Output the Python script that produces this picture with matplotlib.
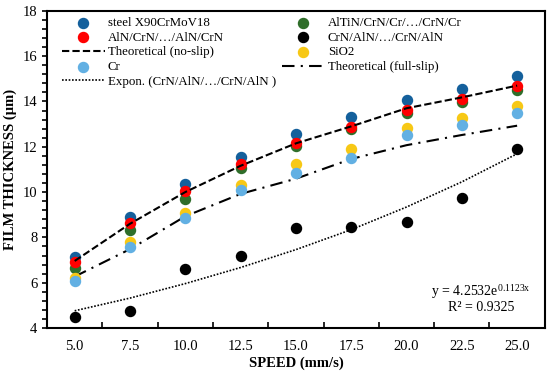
import matplotlib.pyplot as plt
import numpy as np

plt.rcParams['font.family'] = ['Liberation Serif', 'DejaVu Serif']
plt.rcParams['mathtext.fontset'] = 'stix'

speed = [5.0, 7.5, 10.0, 12.5, 15.0, 17.5, 20.0, 22.5, 25.0]
speed_labels = ['5.0', '7.5', '10.0', '12.5', '15.0', '17.5', '20.0', '22.5', '25.0']

steel = [7.15, 8.89, 10.34, 11.56, 12.56, 13.30, 14.07, 14.56, 15.14]
aln_crn = [6.92, 8.64, 10.03, 11.23, 12.18, 12.89, 13.63, 14.10, 14.67]
altin = [6.67, 8.34, 9.70, 11.07, 12.03, 12.78, 13.48, 13.96, 14.49]
crn_aln = [4.47, 4.77, 6.59, 7.16, 8.40, 8.47, 8.69, 9.73, 11.92]
sio2 = [6.22, 7.78, 9.07, 10.32, 11.23, 11.88, 12.84, 13.29, 13.80]
cr = [6.07, 7.58, 8.84, 10.07, 10.84, 11.51, 12.52, 12.96, 13.48]

no_slip = [6.96, 8.60, 10.00, 11.16, 12.15, 12.90, 13.70, 14.18, 14.70]
full_slip = [6.27, 7.48, 8.93, 9.92, 10.59, 11.46, 12.07, 12.52, 12.93]
# trendline values as printed: y = 4.2532e^(0.1123x), x = 1..9
expon = [4.76, 5.32, 5.96, 6.67, 7.46, 8.34, 9.34, 10.45, 11.69]

fig = plt.figure(figsize=(5.5, 3.74), dpi=100)
ax = fig.add_axes([0.0855, 0.123, 0.905, 0.848])

ms = 52
h_steel = ax.scatter(speed, steel, s=ms, color='#14609c', zorder=3, label='steel X90CrMoV18')
h_green = ax.scatter(speed, altin, s=ms, color='#2f6e2a', zorder=3, label='AlTiN/CrN/Cr/…/CrN/Cr')
h_red = ax.scatter(speed, aln_crn, s=ms, color='#ff0000', zorder=4, label='AlN/CrN/…/AlN/CrN')
h_black = ax.scatter(speed, crn_aln, s=ms, color='black', zorder=3, label='CrN/AlN/…/CrN/AlN')
h_yellow = ax.scatter(speed, sio2, s=ms, color='#f7c815', zorder=3, label='SiO2')
h_cr = ax.scatter(speed, cr, s=ms, color='#62b0e3', zorder=4, label='Cr')

h_ns, = ax.plot(speed, no_slip, color='black', ls=(0, (3.5, 1.5)), lw=1.5, zorder=5,
                label='Theoretical (no-slip)')
h_fs, = ax.plot(speed, full_slip, color='black', ls=(0, (6, 3, 1, 3)), lw=1.5, zorder=2,
                label='Theoretical (full-slip)')
h_ex, = ax.plot(speed, expon, color='black', ls=(0, (1, 1)), lw=1.2, zorder=2,
                label='Expon. (CrN/AlN/…/CrN/AlN )')

ax.set_xlim(3.75, 26.25)
ax.set_ylim(4, 18)
ax.set_xticks(speed)
ax.set_xticklabels(speed_labels)
ax.set_xticks(np.arange(6.25, 26, 2.5), minor=True)
ax.set_yticks(np.arange(4, 19, 2))
ax.set_yticks(np.arange(4, 18.01, 0.4), minor=True)
ax.tick_params(axis='x', which='major', length=0, labelsize=10.5, pad=9)
ax.tick_params(axis='x', which='minor', direction='in', length=4, width=1.2)
ax.tick_params(axis='y', which='both', direction='out', length=3.5, width=1.2, labelsize=10.5)
for s in ax.spines.values():
    s.set_linewidth(1.5)

ax.set_xlabel('SPEED (mm/s)', fontweight='bold', fontsize=10.5, labelpad=2)
ax.set_ylabel('FILM THICKNESS (µm)', fontweight='bold', fontsize=10.5, labelpad=4)

handles = [h_steel, h_red, h_ns, h_cr, h_ex, h_green, h_black, h_yellow, h_fs]
ax.legend(handles=handles, loc='upper left', ncol=2, frameon=False, fontsize=9.3,
          bbox_to_anchor=(0.030, 0.980), borderpad=0, borderaxespad=0,
          handlelength=3.3, handletextpad=0.25,
          labelspacing=0.2, columnspacing=0.45)

ax.text(0.872, 0.115, 'y = 4.2532e$^{\\mathregular{0.1123x}}$', transform=ax.transAxes,
        ha='center', va='center', fontsize=10)
ax.text(0.872, 0.065, 'R² = 0.9325', transform=ax.transAxes,
        ha='center', va='center', fontsize=10)

fig.savefig('out.png', dpi=100)
